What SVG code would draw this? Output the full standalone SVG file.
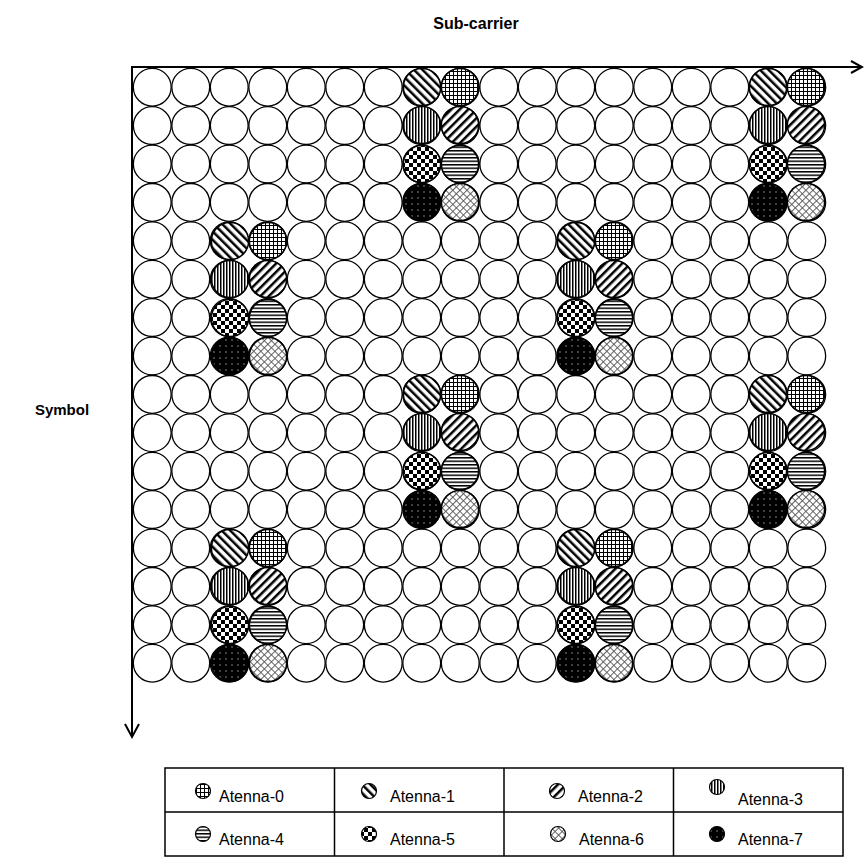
<svg xmlns="http://www.w3.org/2000/svg" xmlns:xlink="http://www.w3.org/1999/xlink" width="864" height="863" viewBox="0 0 864 863">
<style>
.g{fill:#fff;stroke:#000;stroke-width:1.3}
.p{stroke:#000;stroke-width:1.5}
.ax{fill:none;stroke:#000;stroke-width:2}
.lbl{font-family:"Liberation Sans",Arial,sans-serif;font-weight:bold;font-size:15px;fill:#000}
.lt{font-family:"Liberation Sans",Arial,sans-serif;font-size:16px;fill:#000}
.tb{fill:none;stroke:#000;stroke-width:1.5}
.ic{stroke:#000;stroke-width:1.2}
</style>
<defs>
<pattern id="a0" patternUnits="userSpaceOnUse" width="4" height="4"><rect width="4" height="4" fill="#fff"/><rect width="1" height="4" fill="#000"/><rect width="4" height="1" fill="#000"/></pattern>
<pattern id="a1" patternUnits="userSpaceOnUse" width="6" height="6" patternTransform="rotate(-45)"><rect width="6" height="6" fill="#fff"/><rect width="2.5" height="6" fill="#000"/></pattern>
<pattern id="a2" patternUnits="userSpaceOnUse" width="6" height="6" patternTransform="rotate(45)"><rect width="6" height="6" fill="#fff"/><rect width="2.5" height="6" fill="#000"/></pattern>
<pattern id="a3" patternUnits="userSpaceOnUse" width="3" height="3"><rect width="3" height="3" fill="#fff"/><rect width="1.5" height="3" fill="#000"/></pattern>
<pattern id="a4" patternUnits="userSpaceOnUse" width="3.5" height="3.5"><rect width="3.5" height="3.5" fill="#fff"/><rect width="3.5" height="1.5" fill="#000"/></pattern>
<pattern id="a5" patternUnits="userSpaceOnUse" width="8" height="8"><rect width="8" height="8" fill="#fff"/><rect width="4" height="4" fill="#000"/><rect x="4" y="4" width="4" height="4" fill="#000"/></pattern>
<pattern id="a6" patternUnits="userSpaceOnUse" width="5" height="5" patternTransform="rotate(45)"><rect width="5" height="5" fill="#fff"/><rect width="0.9" height="5" fill="#555"/><rect width="5" height="0.9" fill="#555"/></pattern>
<pattern id="a7" patternUnits="userSpaceOnUse" width="6" height="6"><rect width="6" height="6" fill="#000"/><rect x="2.5" y="2.5" width="1" height="1" fill="#fff"/></pattern>
<g id="row">
<circle class="g" cx="152.25" cy="0" r="18.9"/><circle class="g" cx="190.75" cy="0" r="18.9"/><circle class="g" cx="229.25" cy="0" r="18.9"/><circle class="g" cx="267.75" cy="0" r="18.9"/><circle class="g" cx="306.25" cy="0" r="18.9"/><circle class="g" cx="344.75" cy="0" r="18.9"/><circle class="g" cx="383.25" cy="0" r="18.9"/><circle class="g" cx="421.75" cy="0" r="18.9"/><circle class="g" cx="460.25" cy="0" r="18.9"/><circle class="g" cx="498.75" cy="0" r="18.9"/><circle class="g" cx="537.25" cy="0" r="18.9"/><circle class="g" cx="575.75" cy="0" r="18.9"/><circle class="g" cx="614.25" cy="0" r="18.9"/><circle class="g" cx="652.75" cy="0" r="18.9"/><circle class="g" cx="691.25" cy="0" r="18.9"/><circle class="g" cx="729.75" cy="0" r="18.9"/><circle class="g" cx="768.25" cy="0" r="18.9"/><circle class="g" cx="806.75" cy="0" r="18.9"/>
</g>
<g id="cluster">
<circle class="p" cx="1" cy="0" r="18.6" fill="url(#a1)"/>
<circle class="p" cx="39" cy="0" r="18.6" fill="url(#a0)"/>
<circle class="p" cx="1" cy="38" r="18.6" fill="url(#a3)"/>
<circle class="p" cx="39" cy="38" r="18.6" fill="url(#a2)"/>
<circle class="p" cx="1" cy="77" r="18.6" fill="url(#a5)"/>
<circle class="p" cx="39" cy="77" r="18.6" fill="url(#a4)"/>
<circle class="p" cx="1" cy="115" r="18.6" fill="url(#a7)"/>
<circle class="p" cx="39" cy="115" r="18.6" fill="url(#a6)"/>
</g>
</defs>
<g id="grid">
<use xlink:href="#row" href="#row" y="87.2"/><use xlink:href="#row" href="#row" y="125.6"/><use xlink:href="#row" href="#row" y="164"/><use xlink:href="#row" href="#row" y="202.4"/>
<use xlink:href="#row" href="#row" y="240.8"/><use xlink:href="#row" href="#row" y="279.2"/><use xlink:href="#row" href="#row" y="317.6"/><use xlink:href="#row" href="#row" y="356"/>
<use xlink:href="#row" href="#row" y="394.4"/><use xlink:href="#row" href="#row" y="432.8"/><use xlink:href="#row" href="#row" y="471.2"/><use xlink:href="#row" href="#row" y="509.6"/>
<use xlink:href="#row" href="#row" y="548"/><use xlink:href="#row" href="#row" y="586.4"/><use xlink:href="#row" href="#row" y="624.8"/><use xlink:href="#row" href="#row" y="663.2"/>
</g>
<g id="pilots-A1"><use xlink:href="#cluster" href="#cluster" x="421" y="87"/></g>
<g id="pilots-A2"><use xlink:href="#cluster" href="#cluster" x="767" y="87"/></g>
<g id="pilots-A3"><use xlink:href="#cluster" href="#cluster" x="421" y="394"/></g>
<g id="pilots-A4"><use xlink:href="#cluster" href="#cluster" x="767" y="394"/></g>
<g id="pilots-B1"><use xlink:href="#cluster" href="#cluster" x="229" y="241"/></g>
<g id="pilots-B2"><use xlink:href="#cluster" href="#cluster" x="575" y="241"/></g>
<g id="pilots-B3"><use xlink:href="#cluster" href="#cluster" x="229" y="548"/></g>
<g id="pilots-B4"><use xlink:href="#cluster" href="#cluster" x="575" y="548"/></g>
<g id="axes">
<path class="ax" d="M131,67 H862 M851,61 L862,67 L851,73"/>
<path class="ax" d="M132,66 V737 M125,724 L132,737 L139,724"/>
</g>
<g id="labels">
<text class="lbl" x="476" y="29" text-anchor="middle" style="font-size:16px">Sub-carrier</text>
<text class="lbl" x="62" y="415" text-anchor="middle">Symbol</text>
</g>
<g id="legend">
<rect class="tb" x="165" y="768" width="678" height="88"/>
<path class="tb" d="M165,812 H843 M334.5,768 V856 M504,768 V856 M673.5,768 V856"/>
<g id="leg-0"><circle class="ic" cx="203" cy="791" r="7.5" fill="url(#a0)"/><text class="lt" x="219" y="802">Atenna-0</text></g>
<g id="leg-1"><circle class="ic" cx="369" cy="791" r="7.5" fill="url(#a1)"/><text class="lt" x="390" y="802">Atenna-1</text></g>
<g id="leg-2"><circle class="ic" cx="557" cy="791" r="7.5" fill="url(#a2)"/><text class="lt" x="578" y="802">Atenna-2</text></g>
<g id="leg-3"><circle class="ic" cx="717" cy="787" r="7.5" fill="url(#a3)"/><text class="lt" x="738" y="805">Atenna-3</text></g>
<g id="leg-4"><circle class="ic" cx="203" cy="834" r="7.5" fill="url(#a4)"/><text class="lt" x="219" y="845">Atenna-4</text></g>
<g id="leg-5"><circle class="ic" cx="369" cy="834" r="7.5" fill="url(#a5)"/><text class="lt" x="390" y="845">Atenna-5</text></g>
<g id="leg-6"><circle class="ic" cx="558" cy="834" r="7.5" fill="url(#a6)"/><text class="lt" x="579" y="845">Atenna-6</text></g>
<g id="leg-7"><circle class="ic" cx="717" cy="834" r="7.5" fill="url(#a7)"/><text class="lt" x="738" y="845">Atenna-7</text></g>
</g>
</svg>
